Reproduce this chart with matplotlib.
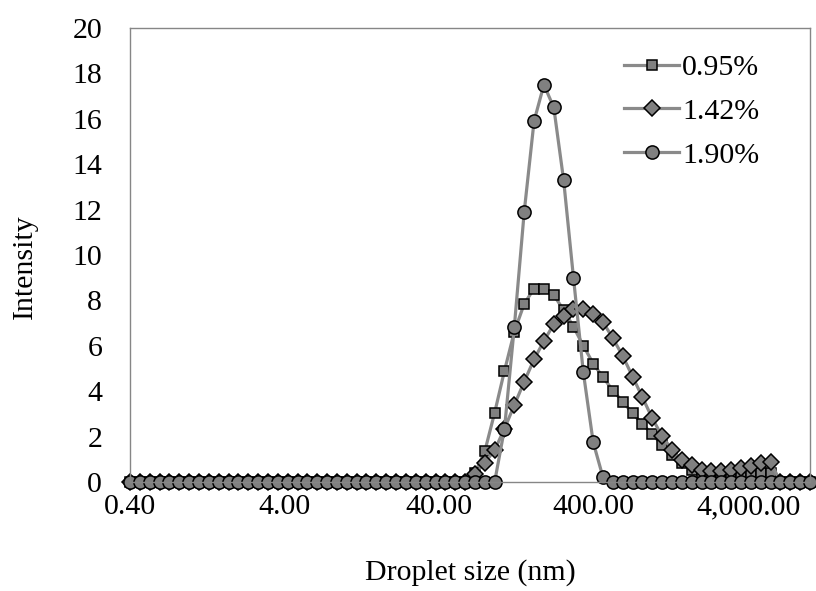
import matplotlib
matplotlib.use("Agg")
import matplotlib.pyplot as plt

# Zetasizer size bins (nm)
sizes = [0.4, 0.4632, 0.5365, 0.6213, 0.7195, 0.8332, 0.9649, 1.117, 1.294, 1.499,
         1.736, 2.01, 2.328, 2.696, 3.122, 3.615, 4.187, 4.849, 5.615, 6.503,
         7.531, 8.721, 10.1, 11.7, 13.54, 15.69, 18.17, 21.04, 24.36, 28.21,
         32.67, 37.84, 43.82, 50.75, 58.77, 68.06, 78.82, 91.28, 105.7, 122.4,
         141.8, 164.2, 190.1, 220.2, 255.0, 295.3, 342.0, 396.1, 458.7, 531.2,
         615.1, 712.4, 825.0, 955.4, 1106, 1281, 1484, 1718, 1990, 2305,
         2669, 3091, 3580, 4145, 4801, 5560, 6439, 7456, 8635, 10000]

# intensity (%) per bin, index 35 onward non-zero
c095 = [0] * 35 + [0.4, 1.35, 3.05, 4.9, 6.62, 7.85, 8.52, 8.52, 8.23, 7.58,
                   6.84, 6.0, 5.22, 4.61, 4.03, 3.54, 3.02, 2.55, 2.11, 1.63,
                   1.21, 0.82, 0.52, 0.32, 0.22, 0.2, 0.25, 0.3, 0.35, 0.4,
                   0.4] + [0] * 4
c142 = [0] * 35 + [0.35, 0.85, 1.4, 2.35, 3.39, 4.42, 5.4, 6.21, 6.95, 7.3,
                   7.62, 7.63, 7.42, 7.04, 6.33, 5.55, 4.64, 3.73, 2.8, 2.02,
                   1.42, 0.96, 0.73, 0.55, 0.48, 0.48, 0.53, 0.62, 0.7, 0.82,
                   0.88] + [0] * 4
c190 = [0] * 38 + [2.35, 6.84, 11.9, 15.9, 17.5, 16.5, 13.3, 9.0, 4.83, 1.75,
                   0.2] + [0] * 21

labels = ["0.95%", "1.42%", "1.90%"]
markers = ["s", "D", "o"]
msizes = [7, 8, 9.5]
xticks = [0.4, 4, 40, 400, 4000]

plt.rcParams["font.family"] = ["Liberation Serif", "DejaVu Serif"]

fig = plt.figure(figsize=(8.16, 5.91), dpi=100)
ax = fig.add_axes([130 / 816, 1 - 482 / 591, 680 / 816, 454 / 591])

for ys, lab, mk, ms in zip([c095, c142, c190], labels, markers, msizes):
    ax.plot(sizes, ys, color="#8a8a8a", lw=2.3, marker=mk, ms=ms,
            mfc="#808080", mec="black", mew=1.1, label=lab, clip_on=False)

ax.set_xscale("log")
ax.set_xlim(0.4, 10000)
ax.set_ylim(0, 20)
ax.set_xticks(xticks)
ax.set_xticklabels(["{:,.2f}".format(v) for v in xticks])
ax.minorticks_off()
ax.set_yticks(range(0, 21, 2))
ax.tick_params(length=0, labelsize=21.5)
ax.tick_params(axis="y", pad=20)
ax.tick_params(axis="x", pad=9)
for sp in ax.spines.values():
    sp.set_color("#868686")
    sp.set_linewidth(1.0)

ax.set_xlabel("Droplet size (nm)", fontsize=21.5, labelpad=28)
ax.set_ylabel("Intensity", fontsize=21.5)
ax.yaxis.set_label_coords(-0.136, 0.474)

ax.legend(loc="upper right", frameon=False, fontsize=21.5, handlelength=1.85,
          handletextpad=0.1, labelspacing=0.57, borderaxespad=0.2,
          bbox_to_anchor=(0.952, 0.982))

fig.savefig("out.png", dpi=100)
